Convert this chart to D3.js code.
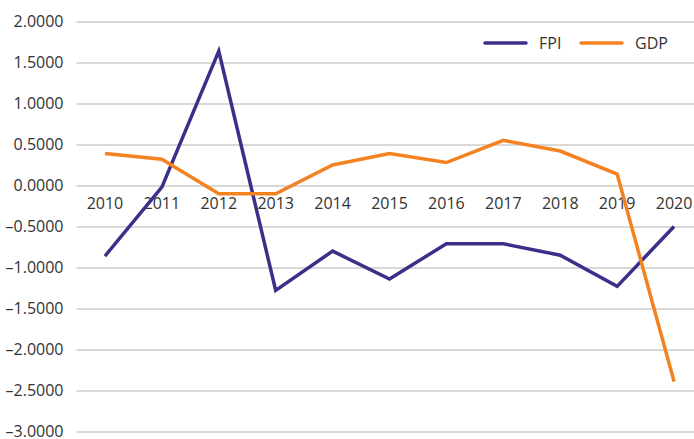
<!DOCTYPE html>
<html>
<head>
<meta charset="utf-8">
<script src="https://cdn.jsdelivr.net/npm/d3@7"></script>
<style>
  html, body { margin: 0; padding: 0; background: #fff; }
  svg { display: block; font-family: 'Open Sans', sans-serif; }
  .grid line { stroke: #cccccc; stroke-width: 1.6; }
  .tick text { fill: #333; }
</style>
</head>
<body>
<div id="chart"></div>
<script>
const years = ['2010', '2011', '2012', '2013', '2014', '2015', '2016', '2017', '2018', '2019', '2020'];
const fpi = [-0.86, -0.02, 1.64, -1.28, -0.80, -1.14, -0.71, -0.71, -0.85, -1.23, -0.50];
const gdp = [0.39, 0.32, -0.10, -0.10, 0.25, 0.39, 0.28, 0.55, 0.42, 0.14, -2.39];
const yTicks = [2, 1.5, 1, 0.5, 0, -0.5, -1, -1.5, -2, -2.5, -3];

const width = 694;
const height = 439;
const margin = { top: 21.5, right: -8.5, bottom: 7.5, left: 76.5 };
const fontFamily = "'Open Sans', sans-serif";

const series = [
  { name: 'FPI', values: fpi, color: '#3a3089' },
  { name: 'GDP', values: gdp, color: '#f58220' },
];

const svg = d3
  .select('#chart')
  .append('svg')
  .attr('width', width)
  .attr('height', height);

const x = d3
  .scaleBand()
  .domain(years)
  .range([margin.left, width - margin.right]);

const y = d3
  .scaleLinear()
  .domain([-3, 2])
  .range([height - margin.bottom, margin.top]);

// horizontal gridlines + value labels
svg
  .append('g')
  .attr('class', 'grid')
  .attr('transform', `translate(${margin.left}, 0)`)
  .call(
    d3
      .axisLeft(y)
      .tickValues(yTicks)
      .tickSize(-(width - margin.right - margin.left))
      .tickPadding(13)
      .tickFormat((d) => (d < 0 ? '\u2013' : '') + d3.format('.4f')(Math.abs(d)))
  )
  .attr('font-family', fontFamily)
  .attr('font-size', 16)
  .call((g) => g.select('.domain').remove());

// category labels sit just under the zero line
svg
  .append('g')
  .attr('transform', `translate(0, ${y(0)})`)
  .call(d3.axisBottom(x).tickSize(0).tickPadding(12))
  .attr('font-family', fontFamily)
  .attr('font-size', 16)
  .call((g) => g.select('.domain').remove());

const line = d3
  .line()
  .x((d, i) => x(years[i]) + x.bandwidth() / 2)
  .y((d) => y(d));

svg
  .selectAll('path.series')
  .data(series)
  .join('path')
  .attr('class', 'series')
  .attr('fill', 'none')
  .attr('stroke', (d) => d.color)
  .attr('stroke-width', 3.5)
  .attr('stroke-linejoin', 'miter')
  .attr('d', (d) => line(d.values));

// legend
const legend = svg
  .append('g')
  .selectAll('g')
  .data(series)
  .join('g')
  .attr('transform', (d, i) => `translate(${485 + i * 96}, 43)`);

legend
  .append('line')
  .attr('x1', 0)
  .attr('x2', 41)
  .attr('stroke', (d) => d.color)
  .attr('stroke-width', 3.5)
  .attr('stroke-linecap', 'round');

legend
  .append('text')
  .attr('x', 54)
  .attr('dy', '0.35em')
  .attr('font-size', 16)
  .attr('fill', '#333')
  .text((d) => d.name);
</script>
</body>
</html>
